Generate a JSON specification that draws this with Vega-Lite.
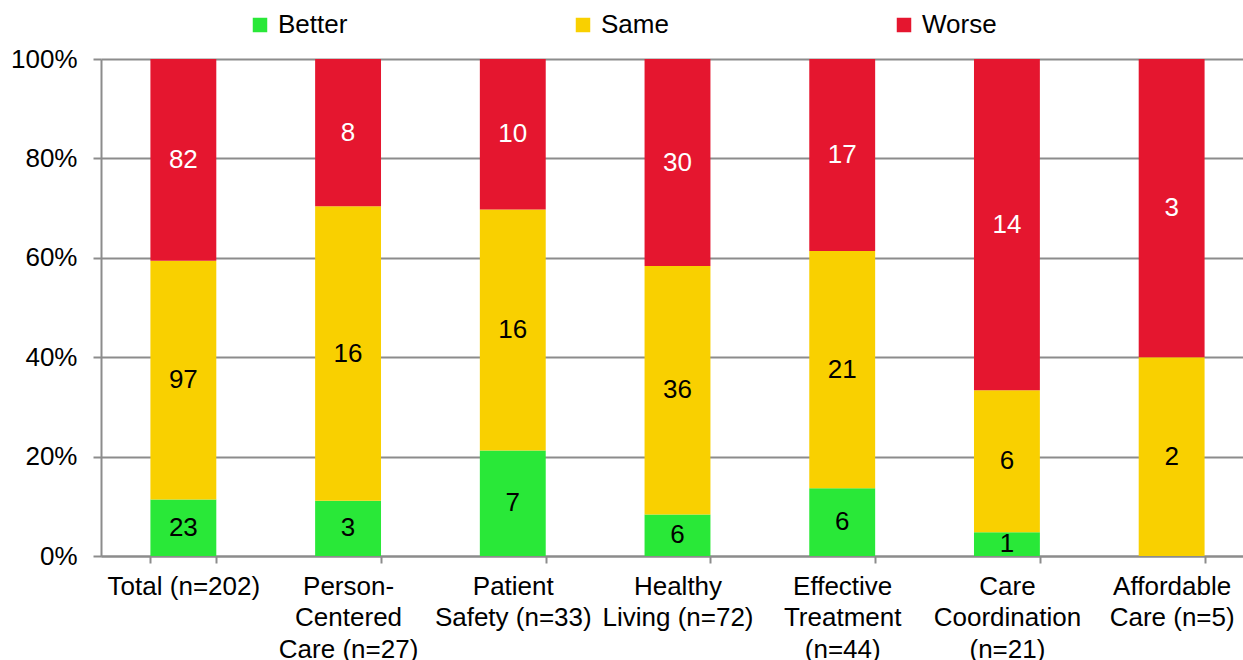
{
  "$schema": "https://vega.github.io/schema/vega-lite/v6.json",
  "width": 1142,
  "height": 497,
  "autosize": {"type": "none"},
  "padding": {"left": 101, "top": 59, "right": 0, "bottom": 104},
  "background": "white",
  "config": {
    "font": "Liberation Sans",
    "view": {"stroke": null},
    "axis": {"labelColor": "#000000", "labelFont": "Liberation Sans", "labelFontSize": 26, "domainColor": "#8c8c8c", "tickColor": "#8c8c8c", "domainWidth": 2, "tickWidth": 2}
  },
  "data": {
    "values": [
      {"category": "Total (n=202)", "status": "Better", "rank": 1, "count": 23},
      {"category": "Total (n=202)", "status": "Same", "rank": 2, "count": 97},
      {"category": "Total (n=202)", "status": "Worse", "rank": 3, "count": 82},
      {"category": "Person-|Centered|Care (n=27)", "status": "Better", "rank": 1, "count": 3},
      {"category": "Person-|Centered|Care (n=27)", "status": "Same", "rank": 2, "count": 16},
      {"category": "Person-|Centered|Care (n=27)", "status": "Worse", "rank": 3, "count": 8},
      {"category": "Patient|Safety (n=33)", "status": "Better", "rank": 1, "count": 7},
      {"category": "Patient|Safety (n=33)", "status": "Same", "rank": 2, "count": 16},
      {"category": "Patient|Safety (n=33)", "status": "Worse", "rank": 3, "count": 10},
      {"category": "Healthy|Living (n=72)", "status": "Better", "rank": 1, "count": 6},
      {"category": "Healthy|Living (n=72)", "status": "Same", "rank": 2, "count": 36},
      {"category": "Healthy|Living (n=72)", "status": "Worse", "rank": 3, "count": 30},
      {"category": "Effective|Treatment|(n=44)", "status": "Better", "rank": 1, "count": 6},
      {"category": "Effective|Treatment|(n=44)", "status": "Same", "rank": 2, "count": 21},
      {"category": "Effective|Treatment|(n=44)", "status": "Worse", "rank": 3, "count": 17},
      {"category": "Care|Coordination|(n=21)", "status": "Better", "rank": 1, "count": 1},
      {"category": "Care|Coordination|(n=21)", "status": "Same", "rank": 2, "count": 6},
      {"category": "Care|Coordination|(n=21)", "status": "Worse", "rank": 3, "count": 14},
      {"category": "Affordable|Care (n=5)", "status": "Better", "rank": 1, "count": 0},
      {"category": "Affordable|Care (n=5)", "status": "Same", "rank": 2, "count": 2},
      {"category": "Affordable|Care (n=5)", "status": "Worse", "rank": 3, "count": 3}
    ]
  },
  "encoding": {
    "x": {
      "field": "category",
      "type": "nominal",
      "sort": null,
      "scale": {"range": [0, 1153], "paddingInner": 0.6, "paddingOuter": 0.3},
      "axis": {
        "title": null,
        "labelAngle": 0,
        "labelExpr": "isString(datum.value) ? split(datum.value, '|') : ''",
        "labelLineHeight": 31.5,
        "labelBaseline": "top",
        "labelPadding": 10,
        "tickSize": 7,
        "tickBand": "extent",
        "labelLimit": 300
      }
    }
  },
  "layer": [
    {
      "mark": {"type": "bar", "strokeWidth": 0},
      "encoding": {
        "y": {
          "field": "count",
          "type": "quantitative",
          "stack": "normalize",
          "axis": {
            "title": null,
            "format": "%",
            "values": [0, 0.2, 0.4, 0.6, 0.8, 1],
            "grid": true,
            "gridColor": "#8c8c8c",
            "gridWidth": 2,
            "tickSize": 8,
            "labelPadding": 16
          }
        },
        "color": {
          "field": "status",
          "type": "nominal",
          "scale": {"domain": ["Better", "Same", "Worse"], "range": ["#29E838", "#F9D000", "#E5162F"]},
          "legend": {
            "title": null,
            "orient": "none",
            "direction": "horizontal",
            "gridAlign": "none",
            "legendX": 146,
            "legendY": -47,
            "columnPadding": 222,
            "symbolType": "square",
            "symbolSize": 210,
            "symbolStrokeWidth": 0,
            "symbolOpacity": 1,
            "labelFontSize": 26,
            "labelColor": "#000000",
            "labelOffset": 5
          }
        },
        "order": {"field": "rank", "type": "quantitative"}
      }
    },
    {
      "transform": [{"filter": "datum.count > 0"}],
      "mark": {"type": "text", "fontSize": 26, "baseline": "middle", "align": "center"},
      "encoding": {
        "y": {"field": "count", "type": "quantitative", "stack": "normalize", "bandPosition": 0.5},
        "text": {"field": "count", "type": "quantitative"},
        "detail": {"field": "status", "type": "nominal"},
        "order": {"field": "rank", "type": "quantitative"},
        "color": {"condition": {"test": "datum.status === 'Worse'", "value": "#ffffff"}, "value": "#000000"}
      }
    }
  ]
}
